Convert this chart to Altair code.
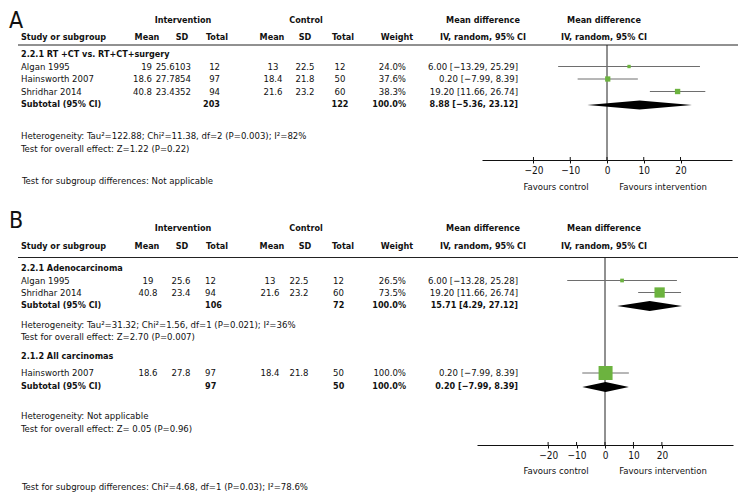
import altair as alt
import pandas as pd

FONT = "DejaVu Sans Condensed, Liberation Sans Narrow, Roboto Condensed, sans-serif"
GREEN = "#6cb33f"
INK = "#111111"
FS = 9.5     # normal text size
FSB = 9.0    # bold text size

# ---------------- data: panel A ----------------
a_letter = "A"
a_group = "2.2.1 RT +CT vs. RT+CT+surgery"
a_study = ["Algan 1995", "Hainsworth 2007", "Shridhar 2014"]
a_int_mean = ["19", "18.6", "40.8"]
a_int_sd = ["25.6103", "27.7854", "23.4352"]
a_int_n = ["12", "97", "94"]
a_ctl_mean = ["13", "18.4", "21.6"]
a_ctl_sd = ["22.5", "21.8", "23.2"]
a_ctl_n = ["12", "50", "60"]
a_weight = [24.0, 37.6, 38.3]
a_md = [6.00, 0.20, 19.20]
a_lo = [-13.29, -7.99, 11.66]
a_hi = [25.29, 8.39, 26.74]
a_sub = {"int_n": "203", "ctl_n": "122", "weight": 100.0, "md": 8.88, "lo": -5.36, "hi": 23.12}
a_het = "Heterogeneity: Tau²=122.88; Chi²=11.38, df=2 (P=0.003); I²=82%"
a_eff = "Test for overall effect: Z=1.22 (P=0.22)"
a_diff = "Test for subgroup differences: Not applicable"

# ---------------- data: panel B ----------------
b_letter = "B"
b1_group = "2.2.1 Adenocarcinoma"
b1_study = ["Algan 1995", "Shridhar 2014"]
b1_int_mean = ["19", "40.8"]
b1_int_sd = ["25.6", "23.4"]
b1_int_n = ["12", "94"]
b1_ctl_mean = ["13", "21.6"]
b1_ctl_sd = ["22.5", "23.2"]
b1_ctl_n = ["12", "60"]
b1_weight = [26.5, 73.5]
b1_md = [6.00, 19.20]
b1_lo = [-13.28, 11.66]
b1_hi = [25.28, 26.74]
b1_sub = {"int_n": "106", "ctl_n": "72", "weight": 100.0, "md": 15.71, "lo": 4.29, "hi": 27.12}
b1_het = "Heterogeneity: Tau²=31.32; Chi²=1.56, df=1 (P=0.021); I²=36%"
b1_eff = "Test for overall effect: Z=2.70 (P=0.007)"

b2_group = "2.1.2 All carcinomas"
b2_study = ["Hainsworth 2007"]
b2_int_mean = ["18.6"]
b2_int_sd = ["27.8"]
b2_int_n = ["97"]
b2_ctl_mean = ["18.4"]
b2_ctl_sd = ["21.8"]
b2_ctl_n = ["50"]
b2_weight = [100.0]
b2_md = [0.20]
b2_lo = [-7.99]
b2_hi = [8.39]
b2_sub = {"int_n": "97", "ctl_n": "50", "weight": 100.0, "md": 0.20, "lo": -7.99, "hi": 8.39}
b2_het = "Heterogeneity: Not applicable"
b2_eff = "Test for overall effect: Z= 0.05 (P=0.96)"
b_diff = "Test for subgroup differences: Chi²=4.68, df=1 (P=0.03); I²=78.6%"

tick_values = [-20, -10, 0, 10, 20]
fav_left = "Favours control"
fav_right = "Favours intervention"
head_top = ["Intervention", "Control", "Mean difference", "Mean difference"]
head_bot = ["Study or subgroup", "Mean", "SD", "Total", "Mean", "SD", "Total", "Weight",
            "IV, random, 95% CI", "IV, random, 95% CI"]


def num(v):
    return f"{v:.2f}".replace("-", "−")


def ci_text(md, lo, hi):
    return f"{num(md)} [{num(lo)}, {num(hi)}]"


# ---------------- layout (page pixels) ----------------
W = 740
PAGE = 8
LEFT = 21
HEAD_TOP_X = [183, 306, 483, 604]
HEAD_BOT_X = [21, 147, 182, 217, 272, 305, 343, 397, 483, 604]
HEAD_BOT_AL = ["left"] + ["center"] * 9
COLS_A = [(152, "right"), (191, "right"), (220, "right"), (273, "center"),
          (305, "center"), (340, "center"), (406, "right"), (518, "right")]
COLS_B = [(148, "center"), (181, "center"), (205, "left"), (270, "center"),
          (299, "center"), (333, "left"), (406, "right"), (518, "right")]
FAV_X = (556, 663)


def cell(t, x, y, al="left", bold=False, size=None, base="middle"):
    if size is None:
        size = FSB if bold else FS
    return (t, x, y, al, bold, size, base)


def header_cells(y1, y2):
    cells = []
    for t, x in zip(head_top, HEAD_TOP_X):
        cells.append(cell(t, x, y1, "center", True))
    for t, x, al in zip(head_bot, HEAD_BOT_X, HEAD_BOT_AL):
        cells.append(cell(t, x, y2, al, True))
    return cells


def study_cells(cols, ys, study, im, isd, inn, cm, csd, cn, wt, md, lo, hi):
    cells = []
    for i, y in enumerate(ys):
        vals = [im[i], isd[i], inn[i], cm[i], csd[i], cn[i], f"{wt[i]:.1f}%", ci_text(md[i], lo[i], hi[i])]
        cells.append(cell(study[i], LEFT, y))
        for (x, al), v in zip(cols, vals):
            cells.append(cell(v, x, y, al))
    return cells


def subtotal_cells(cols, y, sub):
    cells = [cell("Subtotal (95% CI)", LEFT, y, "left", True)]
    for idx, v in [(2, sub["int_n"]), (5, sub["ctl_n"]), (6, f"{sub['weight']:.1f}%"),
                   (7, ci_text(sub["md"], sub["lo"], sub["hi"]))]:
        x, al = cols[idx]
        cells.append(cell(v, x, y, al, True))
    return cells


def text_layers(cells, top):
    df = pd.DataFrame(cells, columns=["text", "x", "y", "align", "bold", "size", "base"])
    df["x"] = df["x"] - PAGE
    df["y"] = df["y"] - top
    layers = []
    for (align, bold, size, base), g in df.groupby(["align", "bold", "size", "base"]):
        layers.append(
            alt.Chart(g).mark_text(
                align=align, baseline=base, font=FONT, fontSize=float(size),
                fontWeight="bold" if bold else "normal", color=INK,
            ).encode(
                x=alt.X("x:Q", scale=None, axis=None),
                y=alt.Y("y:Q", scale=None, axis=None),
                text="text:N",
            )
        )
    return layers


def forest_layers(top, height, domain, rng, studies, diamonds, zero_top, axis_y, dh):
    def xs():
        return alt.Scale(domain=domain, range=[rng[0] - PAGE, rng[1] - PAGE], nice=False, zero=False)

    sdf = pd.DataFrame(studies, columns=["md", "lo", "hi", "w", "y"])
    sdf["y"] = sdf["y"] - top
    rows = []
    for k, (md, lo, hi, y) in enumerate(diamonds):
        yy = y - top
        rows += [{"id": k, "x": lo, "y1": yy, "y2": yy},
                 {"id": k, "x": md, "y1": yy - dh, "y2": yy + dh},
                 {"id": k, "x": hi, "y1": yy, "y2": yy}]
    ddf = pd.DataFrame(rows)
    zdf = pd.DataFrame({"z": [0], "y1": [zero_top - top], "y2": [axis_y - top]})
    tdf = pd.DataFrame({"t": tick_values, "y1": axis_y - top - 3, "y2": axis_y - top})

    zero = alt.Chart(zdf).mark_rule(color="#222222", strokeWidth=1).encode(
        x=alt.X("z:Q", scale=xs(), axis=alt.Axis(
            values=tick_values, orient="bottom", offset=(axis_y - top) - height,
            title=None, grid=False, domainColor="#111111", domainWidth=1,
            tickColor="#111111", tickSize=3, labelFont=FONT, labelFontSize=10,
            labelColor=INK, labelPadding=2, labelFlush=False, labelOverlap=False)),
        y=alt.Y("y1:Q", scale=None, axis=None),
        y2="y2:Q",
    )
    ticks_up = alt.Chart(tdf).mark_rule(color="#111111", strokeWidth=1).encode(
        x=alt.X("t:Q", scale=xs(), axis=None),
        y=alt.Y("y1:Q", scale=None, axis=None),
        y2="y2:Q",
    )
    ci = alt.Chart(sdf).mark_rule(color="#6e6e6e", strokeWidth=1).encode(
        x=alt.X("lo:Q", scale=xs(), axis=None),
        x2="hi:Q",
        y=alt.Y("y:Q", scale=None, axis=None),
    )
    sq = alt.Chart(sdf).mark_square(color=GREEN, opacity=1).encode(
        x=alt.X("md:Q", scale=xs(), axis=None),
        y=alt.Y("y:Q", scale=None, axis=None),
        size=alt.Size("w:Q", scale=alt.Scale(type="pow", exponent=2, domain=[0, 100], range=[0, 196]), legend=None),
    )
    dia = alt.Chart(ddf).mark_area(color="#000000", opacity=1).encode(
        x=alt.X("x:Q", scale=xs(), axis=None),
        y=alt.Y("y1:Q", scale=None, axis=None),
        y2="y2:Q",
        detail="id:N",
    )
    return [zero, ticks_up, ci, sq, dia]


def rule_h(top, y, x0, x1):
    return alt.Chart(pd.DataFrame({"a": [0]})).mark_rule(color="#222222", strokeWidth=1).encode(
        x=alt.value(x0 - PAGE), x2=alt.value(x1 - PAGE), y=alt.value(y - top))


# ---------------- panel A ----------------
TOP_A, H_A = 8, 200
ya_rows = [66.5, 79, 91.5]
cells_a = [cell(a_letter, 9, 10, "left", False, 23, "top")]
cells_a += header_cells(20, 37)
cells_a.append(cell(a_group, LEFT, 54, "left", True))
cells_a += study_cells(COLS_A, ya_rows, a_study, a_int_mean, a_int_sd, a_int_n, a_ctl_mean,
                       a_ctl_sd, a_ctl_n, a_weight, a_md, a_lo, a_hi)
cells_a += subtotal_cells(COLS_A, 104, a_sub)
cells_a += [cell(a_het, LEFT, 136), cell(a_eff, LEFT, 149), cell(a_diff, 22, 181),
            cell(fav_left, FAV_X[0], 187, "center"), cell(fav_right, FAV_X[1], 187, "center")]
studies_a = [(a_md[i], a_lo[i], a_hi[i], a_weight[i], ya_rows[i]) for i in range(3)]
diam_a = [(a_sub["md"], a_sub["lo"], a_sub["hi"], 105)]
panel_a = alt.layer(
    rule_h(TOP_A, 45, 18, 738),
    *forest_layers(TOP_A, H_A, [-34, 34], [482, 732], studies_a, diam_a, 45, 160, 4.5),
    *text_layers(cells_a, TOP_A),
).resolve_scale(x="independent", y="independent").properties(width=W, height=H_A)

# ---------------- panel B ----------------
TOP_B, H_B = 208, 288
yb1_rows = [280.5, 292.5]
yb2_rows = [373]
cells_b = [cell(b_letter, 9, 210, "left", False, 23, "top")]
cells_b += header_cells(228, 246)
cells_b.append(cell(b1_group, LEFT, 268, "left", True))
cells_b += study_cells(COLS_B, yb1_rows, b1_study, b1_int_mean, b1_int_sd, b1_int_n, b1_ctl_mean,
                       b1_ctl_sd, b1_ctl_n, b1_weight, b1_md, b1_lo, b1_hi)
cells_b += subtotal_cells(COLS_B, 305, b1_sub)
cells_b += [cell(b1_het, LEFT, 325), cell(b1_eff, LEFT, 337)]
cells_b.append(cell(b2_group, LEFT, 356, "left", True))
cells_b += study_cells(COLS_B, yb2_rows, b2_study, b2_int_mean, b2_int_sd, b2_int_n, b2_ctl_mean,
                       b2_ctl_sd, b2_ctl_n, b2_weight, b2_md, b2_lo, b2_hi)
cells_b += subtotal_cells(COLS_B, 386, b2_sub)
cells_b += [cell(b2_het, LEFT, 416), cell(b2_eff, LEFT, 429),
            cell(fav_left, FAV_X[0], 471, "center"), cell(fav_right, FAV_X[1], 471, "center"),
            cell(b_diff, 22, 487)]
studies_b = [(b1_md[i], b1_lo[i], b1_hi[i], b1_weight[i], yb1_rows[i]) for i in range(2)]
studies_b += [(b2_md[0], b2_lo[0], b2_hi[0], b2_weight[0], yb2_rows[0])]
diam_b = [(b1_sub["md"], b1_sub["lo"], b1_sub["hi"], 306), (b2_sub["md"], b2_sub["lo"], b2_sub["hi"], 387)]
panel_b = alt.layer(
    rule_h(TOP_B, 257.5, 18, 738),
    *forest_layers(TOP_B, H_B, [-45, 45], [477, 733], studies_b, diam_b, 257.5, 445, 5),
    *text_layers(cells_b, TOP_B),
).resolve_scale(x="independent", y="independent").properties(width=W, height=H_B)

chart = alt.vconcat(panel_a, panel_b, spacing=0).properties(
    padding=0, background="white"
).configure_view(stroke=None)

chart.save("out.html", embed_options={"renderer": "svg", "actions": False})
